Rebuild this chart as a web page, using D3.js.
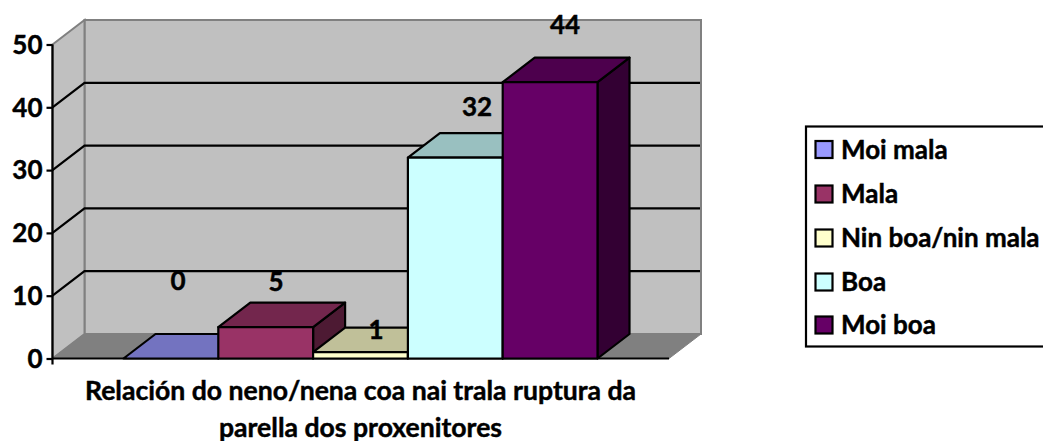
<!DOCTYPE html>
<html><head><meta charset="utf-8">
<script src="https://cdn.jsdelivr.net/npm/d3@7"></script>
<style>html,body{margin:0;padding:0;background:#fff;overflow:hidden}svg{display:block}text{font-family:Lato,"Open Sans",sans-serif;font-weight:700;fill:#000;stroke:#000;stroke-width:.45px}</style>
</head><body><div id="c"></div>
<script>
const categories = ["Moi mala","Mala","Nin boa/nin mala","Boa","Moi boa"];
const values = [0,5,1,32,44];
const colors = ["#9999ff","#993366","#ffffcc","#ccffff","#660066"];
const topColors = ["#7373c0","#73264d","#c0c099","#99c0c0","#4d004d"];
const sideColors = ["#4d4d80","#4d1a33","#808066","#668080","#330033"];
const yTicks = [0,10,20,30,40,50];
const titleLines = ["Relación do neno/nena coa nai trala ruptura da","parella dos proxenitores"];
// layout only: where each data label sits
const labelX = [178,276,376,477,565];
const labelY = [290,291,339,116,34];
const legendY = [149.5,194,238,282,325];

const W=1043,H=441, dx=32, dy=-24.5, FS=26;
const svg=d3.select("#c").append("svg").attr("width",W).attr("height",H);
const y=d3.scaleLinear().domain([0,50]).range([358.5,44.5]);
const x=d3.scaleBand().domain(categories).range([123.5,597.5]).padding(0);
const x0=52.5,x1=669;
const poly=(pts,fill,stroke,sw)=>svg.append("polygon").attr("points",pts.map(p=>p.join(",")).join(" ")).attr("fill",fill).attr("stroke",stroke||"none").attr("stroke-width",sw||0);
const gy=y(0),gt=y(50);
poly([[x0+dx,gt+dy],[x1+dx,gt+dy],[x1+dx,gy+dy],[x0+dx,gy+dy]],"#c0c0c0","#808080",2);
poly([[x0,gt],[x0+dx,gt+dy],[x0+dx,gy+dy],[x0,gy]],"#c0c0c0","#808080",2);
poly([[x0,gy],[x0+dx,gy+dy],[x1+dx,gy+dy],[x1,gy]],"#808080","#808080",1);
yTicks.filter(v=>v>0&&v<50).forEach(v=>{
  svg.append("path").attr("d",`M${x0},${y(v)}L${x0+dx},${y(v)+dy}L${x1+dx-1},${y(v)+dy}`).attr("fill","none").attr("stroke","#000").attr("stroke-width",2.2);
});
const ax=svg.append("g").attr("transform",`translate(${x0},0)`).call(d3.axisLeft(y).tickValues(yTicks).tickSize(6).tickPadding(4).tickSizeOuter(0));
ax.selectAll("path,line").attr("stroke","#000").attr("stroke-width",2.2);
ax.selectAll("text").attr("font-size",FS).attr("dy","0.34em");
ax.select(".domain").attr("d",`M0,${gt}V${gy+6}`);
svg.append("line").attr("x1",x0).attr("x2",x1).attr("y1",gy).attr("y2",gy).attr("stroke","#000").attr("stroke-width",2.2);
const bw=x.bandwidth();
categories.forEach((c,i)=>{
  const l=x(c),r=l+bw,t=y(values[i]),b=y(0);
  const g=svg.append("g");
  const P=(pts,fill)=>g.append("polygon").attr("points",pts.map(p=>p.join(",")).join(" ")).attr("fill",fill).attr("stroke","#000").attr("stroke-width",2.2).attr("stroke-linejoin","round");
  P([[r,t],[r+dx,t+dy],[r+dx,b+dy],[r,b]],sideColors[i]);
  P([[l,t],[l+dx,t+dy],[r+dx,t+dy],[r,t]],topColors[i]);
  if(values[i]>0) P([[l,t],[r,t],[r,b],[l,b]],colors[i]);
});
svg.selectAll(".v").data(values).enter().append("text").attr("class","v")
 .attr("x",(d,i)=>labelX[i]).attr("y",(d,i)=>labelY[i]).attr("text-anchor","middle").attr("font-size",FS).text(d=>d);
svg.selectAll(".t").data(titleLines).enter().append("text").attr("class","t")
 .attr("x",360.5).attr("y",(d,i)=>400+i*36.5).attr("text-anchor","middle").attr("font-size",26.6).text(d=>d);
svg.append("rect").attr("x",806).attr("y",126.5).attr("width",260).attr("height",220).attr("fill","#fff").attr("stroke","#000").attr("stroke-width",2.2);
categories.forEach((c,i)=>{
  svg.append("rect").attr("x",815.5).attr("y",legendY[i]-8.5).attr("width",17).attr("height",17).attr("fill",colors[i]).attr("stroke","#000").attr("stroke-width",2.2);
  svg.append("text").attr("x",841).attr("y",legendY[i]+9).attr("font-size",FS).text(c);
});
</script></body></html>
